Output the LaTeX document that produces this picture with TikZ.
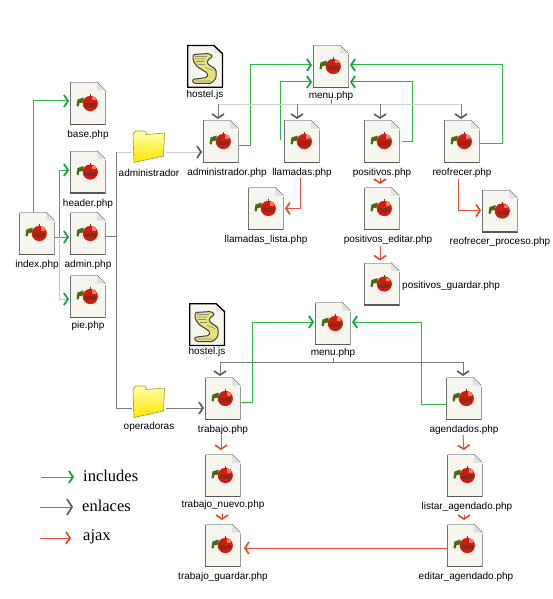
\documentclass[tikz,border=0pt]{standalone}
\usepackage{fontspec}
\setmainfont{Liberation Sans}
\newfontfamily\legendfont{Liberation Serif}
\usepackage{tikz}
\usetikzlibrary{positioning}
\usetikzlibrary{arrows.meta}

\definecolor{includeline}{HTML}{2DB84A}
\definecolor{includetip}{HTML}{0FA83C}
\definecolor{includepale}{HTML}{A5DDB0}
\definecolor{linkline}{HTML}{7D7D7D}
\definecolor{linkpale}{HTML}{D0D0D0}
\definecolor{linktip}{HTML}{5F5F5F}
\definecolor{ajaxline}{HTML}{F0503C}
\definecolor{ajaxtip}{HTML}{E8481C}
\definecolor{pagefill}{HTML}{F6F6EF}
\definecolor{applered}{HTML}{D01A14}
\definecolor{appledark}{HTML}{8C2A12}
\definecolor{applelight}{HTML}{F47A5C}
\definecolor{leafgreen}{HTML}{4A6A10}
\definecolor{scrollyellow}{HTML}{E8E27A}

\newcommand{\pagesheet}{
    \fill[pagefill] (-18,-21.5) rectangle (18,21.5);
    \draw[line width=1pt, color=black!30] (-17.5,-21) -- (9,-21);
    \draw[line width=1pt, color=black!55] (-17.5,-21) -- (-17.5,21);
    \draw[line width=1.4pt, color=black!65] (-18,20.8) -- (18,20.8);
    \draw[line width=1.2pt, color=black!40] (17.4,21) -- (17.4,-12);
    \fill[white] (9,-22) -- (18,-13) -- (18,-22) -- cycle;
    \fill[black!12] (9,-21.5) -- (9,-13) -- (17.5,-13) -- cycle;
    \draw[line width=0.6pt, color=black!50] (9,-21.5) -- (17.5,-13);
}
\newcommand{\appleicon}{
    % Apple
    \fill[applered] (2.3,0) circle (7.6pt);
    \fill[appledark] (-3.5,-0.5) rectangle (8,3.5);
    \fill[applelight] (4,-6.5) rectangle (8,-3);
    \draw[line width=0.8pt, color=appledark] (2,-7) -- (2,-9.5);
    % Leaf
    \fill[leafgreen] (-11.5,2.5) -- (-10.5,-4) -- (-4.5,-6) -- (-4.5,-1) -- (-8.5,-0.5) -- (-9.5,3) -- cycle;
}
\newcommand{\scrollicon}{
    % Scroll
    \filldraw[fill=scrollyellow, draw=black!75, line width=1pt, rounded corners=1.5pt]
        (-12,-12) -- (4,-13) -- (8,-10) -- (3,-7) -- (2,-3) -- (11,3) -- (11,12) -- (6,17) -- (-11,17)
        -- (-13,13) -- (-6,12) -- (2,11) -- (3,7) -- (-8,0) -- (-12,-6) -- cycle;
    \draw[line width=0.6pt, color=black!45] (-10,-10) -- (2,-10) (-10,-7.5) -- (0,-7.5) (-9,-5) -- (-1,-5) (-7,-2) -- (0,-2) (0,1) -- (8,4) (-10,14.5) -- (6,14.5);
}
\newcommand{\foldericon}{
    % Folder
    \shade[top color=yellow!35, bottom color=yellow!80!orange, draw=yellow!55!black, line width=0.6pt]
        (-16,-13) -- (-13.5,-16) -- (-4,-16) -- (-2,-12.5) -- (15.5,-14) -- (14.5,9) -- (-15,15.5) -- cycle;
    \draw[line width=0.6pt, color=white!70!yellow] (-14,-8) -- (14,-11);
}

\tikzset{
    every label/.style={font=\fontsize{10}{12}\selectfont, inner sep=0pt, text height=7.5pt, text depth=2.5pt, yshift=-5pt},
    phpfile/.style={minimum width=36pt, minimum height=43pt, inner sep=0pt, outer sep=0pt,
        path picture={\begin{scope}[shift=(path picture bounding box.center)]\pagesheet\appleicon\end{scope}}},
    jsfile/.style={minimum width=36pt, minimum height=43pt, inner sep=0pt, outer sep=0pt,
        path picture={\begin{scope}[shift=(path picture bounding box.center)]
            \pagesheet
            \draw[line width=1.3pt] (-17.4,-20.9) -- (9,-20.9) -- (17.4,-13) -- (17.4,20.9) -- (-17.4,20.9) -- cycle;
            \scrollicon\end{scope}}},
    foldernode/.style={minimum width=34pt, minimum height=33pt, inner sep=0pt, outer sep=0pt,
        path picture={\begin{scope}[shift=(path picture bounding box.center)]\foldericon\end{scope}}},
    legendtext/.style={font=\fontsize{16.5}{18}\legendfont\selectfont, inner sep=0pt, anchor=west},
    include/.style={draw=includeline, line width=1pt, shorten >=1pt,
        -{Straight Barb[length=4pt, width=12pt, line width=1.8pt, color=includetip]}},
    enlace/.style={draw=linkline, line width=1pt, shorten >=1pt,
        -{Straight Barb[length=4pt, width=12pt, line width=1.7pt, color=linktip]}},
    enlacebig/.style={enlace, -{Straight Barb[length=5pt, width=16pt, line width=1.7pt, color=linktip]}},
    ajax/.style={draw=ajaxline, line width=1pt, shorten >=1pt,
        -{Straight Barb[length=4pt, width=12pt, line width=1.6pt, color=ajaxtip]}},
    trunk/.style={draw=linkline, line width=1pt},
    paletrunk/.style={draw=linkpale, line width=1pt},
}

\begin{document}
\begin{tikzpicture}[x=1pt, y=-1pt]
    \useasboundingbox (0,0) rectangle (553,599);

    % Left column
    \node[phpfile, label={below:index.php}] (index) at (37,233.5) {};
    \node[phpfile, label={below:base.php}] (base) at (88,103.5) {};
    \node[phpfile, label={below:header.php}] (header) at (88,172) {};
    \node[phpfile, label={below:admin.php}] (admin) at (88,233.5) {};
    \node[phpfile, label={[yshift=2pt]below:pie.php}] (pie) at (88,296.5) {};

    % Administrador
    \node[foldernode, label={below:administrador}] (adminfolder) at (149,147) {};
    \node[jsfile, label={[yshift=3pt]below:hostel.js}] (hostelone) at (205,66.5) {};
    \node[phpfile, label={[yshift=2pt]below:menu.php}] (menuone) at (331,66.5) {};
    \node[phpfile, label={[xshift=6pt]below:administrador.php}] (adminmain) at (221,141.5) {};
    \node[phpfile, label={below:llamadas.php}] (llamadas) at (302,141.5) {};
    \node[phpfile, label={below:positivos.php}] (positivos) at (382,141.5) {};
    \node[phpfile, label={below:reofrecer.php}] (reofrecer) at (462,141.5) {};
    \node[phpfile, label={below:llamadas\_lista.php}] (llamadaslista) at (266,208.5) {};
    \node[phpfile, label={[xshift=6pt]below:positivos\_editar.php}] (positivoseditar) at (382,208.5) {};
    \node[phpfile, label={[yshift=1pt]below:reofrecer\_proceso.php}] (reofrecerproceso) at (500,211) {};
    \node[phpfile, label={[xshift=2pt, yshift=3pt]right:positivos\_guardar.php}] (positivosguardar) at (382,284) {};

    % Operadoras
    \node[foldernode, label={[yshift=2pt]below:operadoras}] (operfolder) at (149,402) {};
    \node[jsfile, label={[yshift=4pt]below:hostel.js}] (hosteltwo) at (207,324.5) {};
    \node[phpfile, label={[yshift=2pt]below:menu.php}] (menutwo) at (333,323.5) {};
    \node[phpfile, label={below:trabajo.php}] (trabajo) at (223,398.5) {};
    \node[phpfile, label={below:agendados.php}] (agendados) at (464,398.5) {};
    \node[phpfile, label={[yshift=2pt]below:trabajo\_nuevo.php}] (trabajonuevo) at (223,475.5) {};
    \node[phpfile, label={below:trabajo\_guardar.php}] (trabajoguardar) at (223,545.5) {};
    \node[phpfile, label={[xshift=2pt]below:listar\_agendado.php}] (listar) at (465,475.5) {};
    \node[phpfile, label={[xshift=1pt]below:editar\_agendado.php}] (editar) at (465,545.5) {};

    % Legend
    \coordinate (incstart) at (41,477);
    \coordinate (incend) at (75,477);
    \coordinate (enlstart) at (40,507);
    \coordinate (enlend) at (74,507);
    \coordinate (ajxstart) at (40,538);
    \coordinate (ajxend) at (72,538);
    \draw[include] (incstart) -- (incend);
    \draw[enlacebig] (enlstart) -- (enlend);
    \draw[ajax] (ajxstart) -- (ajxend);
    \node[legendtext] (inclabel) at (83,476) {includes};
    \node[legendtext] (enllabel) at (82,506) {enlaces};
    \node[legendtext] (ajxlabel) at (83,537) {ajax};

    % Includes
    \coordinate (menuonetopin) at ([yshift=1.5pt]menuone.west);
    \coordinate (menuonelowin) at ([yshift=-15.5pt]menuone.west);
    \coordinate (menuonetopback) at ([yshift=1.5pt]menuone.east);
    \coordinate (menuonelowback) at ([yshift=-15.5pt]menuone.east);
    \coordinate (menutwoin) at ([yshift=1.5pt]menutwo.west);
    \coordinate (menutwoback) at ([yshift=1.5pt]menutwo.east);
    \draw[include] ([xshift=-4pt]index.north) |- ([yshift=2.5pt]base.west);
    \draw[include] ([yshift=-3.5pt]index.east) -- ([yshift=-3.5pt]admin.west);
    \coordinate (indexjoin) at ([xshift=4pt,yshift=-3.5pt]index.east);
    \draw[include] (indexjoin) |- ([yshift=2pt]header.west);
    \draw[include, draw=includepale] (indexjoin) |- ([yshift=-2.5pt]pie.west);
    \draw[include] ([yshift=-3.5pt]adminmain.east) -| ([xshift=11pt]adminmain.east |- menuonetopin) -- (menuonetopin);
    \draw[include] ([xshift=-4pt,yshift=1.5pt]llamadas.west) |- (menuonelowin);
    \draw[include] ([xshift=2pt]positivos.east) -| ([xshift=12pt]positivos.east |- menuonelowback) -- (menuonelowback);
    \draw[include] ([yshift=-1.5pt]reofrecer.east) -| ([xshift=22pt]reofrecer.east |- menuonetopback) -- (menuonetopback);
    \draw[include] ([yshift=-3.5pt]trabajo.east) -| ([xshift=11pt]trabajo.east |- menutwoin) -- (menutwoin);
    \draw[include] ([yshift=-5.5pt]agendados.west) -| ([xshift=-25pt]agendados.west |- menutwoback) -- (menutwoback);

    % Enlaces
    \coordinate (admintrunk) at ([xshift=10pt,yshift=-2.5pt]admin.east);
    \coordinate (adminin) at ([yshift=-5pt]adminfolder.west);
    \coordinate (operin) at ([yshift=-6pt]operfolder.west);
    \draw[trunk] ([yshift=-2.5pt]admin.east) -- (admintrunk);
    \draw[paletrunk] (admintrunk |- adminin) -- (adminin);
    \draw[trunk] (admintrunk) -- (admintrunk |- adminin);
    \draw[trunk] (admintrunk) |- (operin);
    \draw[enlace, draw=linkpale] ([yshift=-5pt]adminfolder.east) -- ([yshift=-5pt]adminfolder.east -| adminmain.west);
    \draw[enlace] ([yshift=-6pt]operfolder.east) -- ([yshift=-6pt]operfolder.east -| trabajo.west);

    \coordinate (menuonetree) at ([yshift=-16.5pt]menuone.south);
    \draw[trunk] ([yshift=-11.5pt]menuone.south) -- (menuonetree);
    \draw[paletrunk] ([xshift=-3pt]adminmain.north |- menuonetree) -- ([xshift=-1pt]reofrecer.north |- menuonetree);
    \draw[enlace] ([xshift=-3pt]adminmain.north |- menuonetree) -- ([xshift=-3pt]adminmain.north);
    \draw[enlace] ([xshift=-5pt]llamadas.north |- menuonetree) -- ([xshift=-5pt]llamadas.north);
    \draw[enlace] ([xshift=-2pt]positivos.north |- menuonetree) -- ([xshift=-2pt]positivos.north);
    \draw[enlace] ([xshift=-1pt]reofrecer.north |- menuonetree) -- ([xshift=-1pt]reofrecer.north);

    \coordinate (menutwotree) at ([yshift=-17pt]menutwo.south);
    \draw[trunk] ([yshift=-12.5pt]menutwo.south) -- (menutwotree);
    \draw[enlace] (menutwotree) -| ([xshift=-3pt]trabajo.north);
    \draw[enlace] (menutwotree) -| ([xshift=-1pt]agendados.north);

    % Ajax
    \draw[ajax] ([xshift=-1.5pt,yshift=-15pt]llamadas.south) |- (llamadaslista.east);
    \draw[ajax] ([xshift=-2pt,yshift=-15pt]positivos.south) -- ([xshift=-2pt,yshift=2pt]positivoseditar.north);
    \draw[ajax] ([xshift=-4pt,yshift=-16pt]reofrecer.south) |- ([yshift=0.5pt]reofrecerproceso.west);
    \draw[ajax] ([xshift=-2pt,yshift=-16pt]positivoseditar.south) -- ([xshift=-2pt,yshift=1pt]positivosguardar.north);
    \draw[ajax] ([xshift=-2pt,yshift=-15pt]trabajo.south) -- ([xshift=-2pt,yshift=3pt]trabajonuevo.north);
    \draw[ajax] ([xshift=-1pt,yshift=-16pt]trabajonuevo.south) -- ([xshift=-1pt,yshift=3pt]trabajoguardar.north);
    \draw[ajax] ([xshift=-1pt,yshift=-15pt]agendados.south) -- ([xshift=-1pt,yshift=3pt]listar.north);
    \draw[ajax] ([xshift=-1pt,yshift=-18pt]listar.south) -- ([xshift=-1pt,yshift=3pt]editar.north);
    \draw[ajax] ([yshift=-2.5pt]editar.west) -- ([yshift=-2.5pt,xshift=2pt]trabajoguardar.east);
\end{tikzpicture}
\end{document}
